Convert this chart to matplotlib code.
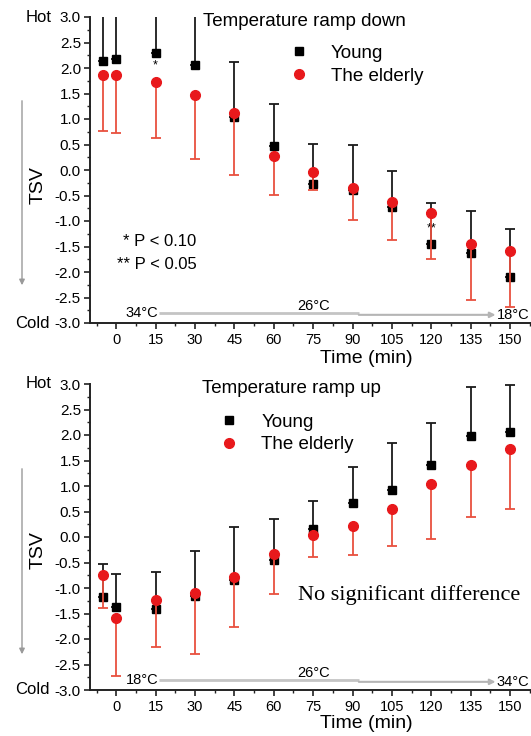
import matplotlib
matplotlib.use("Agg")
import matplotlib.pyplot as plt
from matplotlib.lines import Line2D
from matplotlib.patches import FancyArrowPatch
from matplotlib.ticker import MultipleLocator, FormatStrFormatter

plt.rcParams['font.family'] = ['Liberation Sans', 'DejaVu Sans']

# ---------------- data ----------------
time = [-5, 0, 15, 30, 45, 60, 75, 90, 105, 120, 135, 150]

young_down = [2.14, 2.17, 2.30, 2.05, 1.04, 0.48, -0.27, -0.40, -0.73, -1.46, -1.62, -2.09]
young_down_upper = [3.3, 3.3, 3.3, 3.3, 2.11, 1.29, 0.51, 0.49, -0.01, -0.65, -0.80, -1.16]
elderly_down = [1.86, 1.86, 1.72, 1.48, 1.11, 0.28, -0.03, -0.36, -0.63, -0.84, -1.46, -1.59]
elderly_down_lower = [0.77, 0.72, 0.62, 0.21, -0.10, -0.49, -0.39, -0.98, -1.37, -1.75, -2.55, -2.68]

young_up = [-1.17, -1.37, -1.41, -1.16, -0.84, -0.46, 0.16, 0.67, 0.92, 1.41, 1.98, 2.05]
young_up_upper = [-0.52, -0.73, -0.69, -0.27, 0.20, 0.35, 0.71, 1.38, 1.84, 2.23, 2.95, 2.98]
elderly_up = [-0.75, -1.59, -1.24, -1.09, -0.79, -0.33, 0.04, 0.22, 0.54, 1.04, 1.41, 1.73]
elderly_up_lower = [-1.40, -2.73, -2.16, -2.30, -1.77, -1.12, -0.40, -0.35, -0.18, -0.03, 0.40, 0.54]

x_ticks = [0, 15, 30, 45, 60, 75, 90, 105, 120, 135, 150]
y_ticks = [-3.0, -2.5, -2.0, -1.5, -1.0, -0.5, 0.0, 0.5, 1.0, 1.5, 2.0, 2.5, 3.0]

series_labels = ["Young", "The elderly"]
titles = ["Temperature ramp down", "Temperature ramp up"]
temps_down = ["34°C", "26°C", "18°C"]
temps_up = ["18°C", "26°C", "34°C"]

BLACK = "#000000"
RED = "#e8191c"
RED_ERR = "#e8503f"

fig = plt.figure(figsize=(5.31, 7.36), dpi=100)
ax1 = fig.add_axes([90/531, (736-323)/736, 441/531, 306/736])
ax2 = fig.add_axes([90/531, (736-690)/736, 441/531, 306/736])


def draw_panel(ax, young, young_hi, eld, eld_lo, title, temps, title_x, leg_x, leg_y):
    yerr_young = [[0]*len(young), [h - m for h, m in zip(young_hi, young)]]
    yerr_eld = [[m - l for m, l in zip(eld, eld_lo)], [0]*len(eld)]
    ax.errorbar(time, young, yerr=yerr_young, fmt='s', color=BLACK, ms=6,
                ecolor='#1a1a1a', elinewidth=1.3, capsize=3.5, capthick=1.3, zorder=3)
    ax.errorbar(time, eld, yerr=yerr_eld, fmt='o', color=RED, ms=7,
                ecolor=RED_ERR, elinewidth=1.3, capsize=3.5, capthick=1.3, zorder=4)
    ax.set_xlim(-10, 158)
    ax.set_ylim(-3, 3)
    ax.set_xticks(x_ticks)
    ax.xaxis.set_minor_locator(MultipleLocator(7.5))
    ax.set_yticks(y_ticks)
    ax.yaxis.set_major_formatter(FormatStrFormatter('%.1f'))
    ax.yaxis.set_minor_locator(MultipleLocator(0.25))
    for s in ['top', 'right']:
        ax.spines[s].set_visible(False)
    for s in ['left', 'bottom']:
        ax.spines[s].set_linewidth(1.4)
        ax.spines[s].set_color('#222222')
    ax.tick_params(axis='both', which='major', direction='out', length=4.5, width=1.2,
                   color='#222222')
    ax.tick_params(axis='both', which='minor', direction='out', length=2.5, width=1.0,
                   color='#222222')
    ax.tick_params(axis='y', labelsize=11, pad=2)
    ax.tick_params(axis='x', labelsize=10.5, pad=3)
    ax.set_xlabel("Time (min)", fontsize=14)
    ax.set_ylabel("TSV", fontsize=14)
    ax.text(title_x, 0.984, title, transform=ax.transAxes, fontsize=13.5,
            ha='left', va='center')
    handles = [Line2D([], [], ls='none', marker='s', ms=6, color=BLACK),
               Line2D([], [], ls='none', marker='o', ms=7, color=RED)]
    ax.legend(handles=handles, labels=series_labels, loc='upper left',
              bbox_to_anchor=(leg_x, leg_y), frameon=False, fontsize=13.5,
              handlelength=1.0, handletextpad=1.2, labelspacing=0.3,
              borderaxespad=0, borderpad=0)
    ax.text(-0.086, 1.0, "Hot", transform=ax.transAxes, fontsize=12,
            ha='right', va='center')
    ax.text(-0.091, 0.0, "Cold", transform=ax.transAxes, fontsize=12,
            ha='right', va='center')
    # temperature schedule lines
    ax.plot([16.4, 92.4], [-2.80, -2.80], color='#c4c4c4', lw=2.0, zorder=1,
            solid_capstyle='butt')
    ax.annotate("", xy=(144.5, -2.84), xytext=(92.4, -2.84),
                arrowprops=dict(arrowstyle='-|>', color='#b5b5b5', lw=1.5,
                                mutation_scale=8, shrinkA=0, shrinkB=0), zorder=1)
    ax.text(16, -2.80, temps[0], fontsize=10.5, ha='right', va='center')
    ax.text(75, -2.67, temps[1], fontsize=10.5, ha='center', va='center')
    ax.text(145, -2.84, temps[2], fontsize=10.5, ha='left', va='center')


draw_panel(ax1, young_down, young_down_upper, elderly_down, elderly_down_lower,
           titles[0], temps_down, 0.256, 0.452, 0.909)
draw_panel(ax2, young_up, young_up_upper, elderly_up, elderly_up_lower,
           titles[1], temps_up, 0.254, 0.295, 0.904)

for ax, ly, ty in [(ax1, -0.088, 0.451), (ax2, -0.082, 0.457)]:
    ax.xaxis.set_label_coords(0.626, ly)
    ax.yaxis.set_label_coords(-0.0975, ty)

# significance markers
ax1.text(15, 2.05, "*", fontsize=9, ha='center', va='center')
ax1.text(120, -1.14, "**", fontsize=9, ha='center', va='center')
ax1.text(30.5, -1.41, "* P < 0.10", fontsize=12, ha='right', va='center')
ax1.text(30.5, -1.86, "** P < 0.05", fontsize=12, ha='right', va='center')

ax2.text(69.4, -1.14, "No significant difference", fontsize=16, ha='left', va='center',
         family=['Liberation Serif', 'DejaVu Serif'])

# vertical hot->cold arrows on the left
for y0, y1 in [(98, 288), (466, 657)]:
    fig.add_artist(FancyArrowPatch(
        (22/531, 1 - y0/736), (22/531, 1 - y1/736), transform=fig.transFigure,
        arrowstyle='-|>', mutation_scale=8, color='#9a9a9a', lw=1.0))

fig.savefig("out.png", dpi=100)
